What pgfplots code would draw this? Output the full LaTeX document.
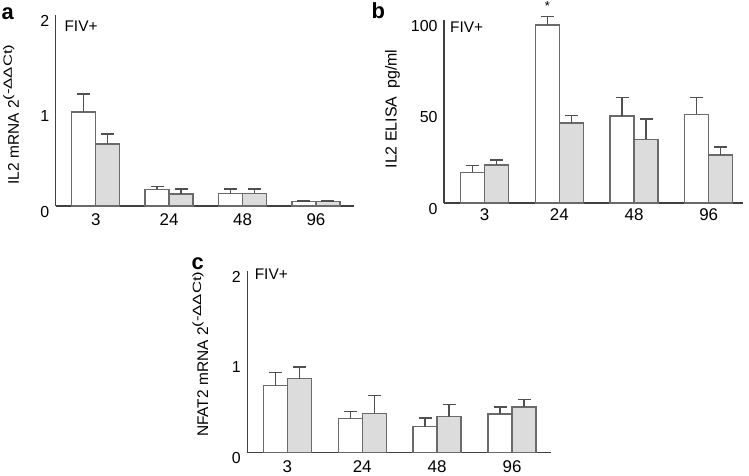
\documentclass[border=0pt]{standalone}
\usepackage{fontspec}
\setmainfont{Liberation Sans}
\usepackage{graphicx}
\usepackage{pgfplots}
\pgfplotsset{compat=1.18}
\definecolor{barline}{HTML}{6A6A6A}
\definecolor{errline}{HTML}{505050}
\definecolor{greyfill}{HTML}{DCDCDC}
\newcommand{\ddct}{2\raisebox{0.45em}{\scalebox{1.4}[1]{\fontsize{12}{13}\selectfont(-ΔΔCt)}}}
\tikzset{fiv/.style={anchor=west, inner sep=0pt, font=\fontsize{15.5}{17}\selectfont}}
\pgfplotsset{
  panel/.style={
    scale only axis, enlargelimits=false,
    axis x line=bottom, axis y line=left,
    axis line style={-, black!75, line width=1.1bp},
    ymin=0, xtick={0,1,2,3}, xticklabels={3,24,48,96},
    major tick length=0pt,
    ybar=0pt, bar width=24bp,
    xticklabel style={font=\fontsize{17}{19}\selectfont},
    yticklabel style={font=\fontsize{16}{18}\selectfont, yshift=-6bp, xshift=-3bp},
    /pgf/number format/assume math mode=true,
    ylabel style={font=\fontsize{15.5}{17}\selectfont, anchor=center},
    clip=false,
  },
  wbar/.style={fill=white, draw=barline, line width=1.4bp,
    error bars/.cd, y dir=plus, y explicit, error mark=|,
    error bar style={errline, line width=1.3bp},
    error mark options={errline, line width=1.3bp, mark size=6.5bp}},
  gbar/.style={fill=greyfill, draw=barline, line width=1.4bp,
    error bars/.cd, y dir=plus, y explicit, error mark=|,
    error bar style={errline, line width=1.3bp},
    error mark options={errline, line width=1.3bp, mark size=6.5bp}},
}
\begin{document}
\begin{tikzpicture}
\path[use as bounding box] (0,0) rectangle (749bp,-476bp);

% ---------- panel a ----------
\begin{axis}[panel, at={(55.7bp,-206bp)}, anchor=south west,
  width=298.3bp, height=191bp,
  xmin=-0.545, xmax=3.518, ymax=2, ytick={0,1,2},
  xticklabel style={yshift=-4bp},
  ylabel={IL2 mRNA \ddct},
  ylabel style={at={(axis description cs:-0.150,0.479)}},
]
\addplot[wbar] coordinates {(0,0.984) +- (0,0.189) (1,0.175) +- (0,0.031) (2,0.133) +- (0,0.045) (3,0.045) +- (0,0.007)};
\addplot[gbar] coordinates {(0,0.649) +- (0,0.105) (1,0.126) +- (0,0.052) (2,0.133) +- (0,0.045) (3,0.045) +- (0,0.007)};
\node[fiv] at (rel axis cs:0.029,0.94) {FIV+};
\end{axis}

% ---------- panel b ----------
\begin{axis}[panel, at={(444bp,-203bp)}, anchor=south west,
  width=299.3bp, height=183bp,
  xmin=-0.545, xmax=3.463, ymax=100, ytick={0,50,100},
  xticklabel style={yshift=-2bp},
  ylabel={IL2 ELISA\hspace{8bp}pg/ml},
  ylabel style={at={(axis description cs:-0.172,0.514)}, font=\fontsize{16}{17}\selectfont},
]
\addplot[wbar] coordinates {(0,16.8) +- (0,3.6) (1,97.3) +- (0,4.7) (2,47.5) +- (0,10.3) (3,48.5) +- (0,9.3)};
\addplot[gbar] coordinates {(0,20.8) +- (0,2.7) (1,43.7) +- (0,4.2) (2,34.8) +- (0,11.1) (3,26.2) +- (0,4.4)};
\node[fiv] at (rel axis cs:0.02,0.963) {FIV+};
\node[font=\fontsize{13}{15}\selectfont, inner sep=0pt, xshift=-12bp] at (axis cs:1,107.5) {*};
\end{axis}

% ---------- panel c ----------
\begin{axis}[panel, at={(247.3bp,-452.3bp)}, anchor=south west,
  width=303.7bp, height=181.6bp,
  xmin=-0.534, xmax=3.52, ymax=2, ytick={0,1,2},
  xticklabel style={yshift=-5bp},
  ylabel={NFAT2 mRNA \ddct},
  ylabel style={at={(axis description cs:-0.155,0.54)}},
]
\addplot[wbar] coordinates {(0,0.733) +- (0,0.144) (1,0.370) +- (0,0.077) (2,0.282) +- (0,0.096) (3,0.422) +- (0,0.077)};
\addplot[gbar] coordinates {(0,0.810) +- (0,0.130) (1,0.430) +- (0,0.193) (2,0.392) +- (0,0.137) (3,0.499) +- (0,0.085)};
\node[fiv] at (rel axis cs:0.024,0.982) {FIV+};
\end{axis}

% panel letters
\node[anchor=base west, inner sep=0pt, font=\bfseries\fontsize{22}{24}\selectfont] at (1.5bp,-19bp) {a};
\node[anchor=base west, inner sep=0pt, font=\bfseries\fontsize{22}{24}\selectfont] at (371.5bp,-18.3bp) {b};
\node[anchor=base west, inner sep=0pt, font=\bfseries\fontsize{22}{24}\selectfont] at (191.5bp,-269bp) {c};
\end{tikzpicture}
\end{document}
